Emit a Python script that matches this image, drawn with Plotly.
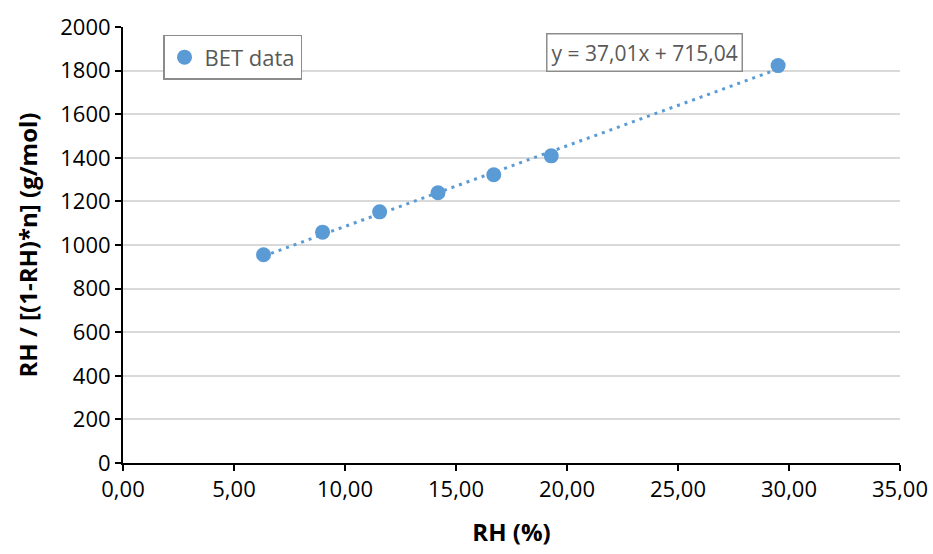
import plotly.graph_objects as go

# BET plot data
rh_pct = [6.33, 8.99, 11.56, 14.19, 16.70, 19.29, 29.51]
bet_y = [955, 1059, 1152, 1240, 1322, 1409, 1823]

# Linear fit reported on the chart
slope = 37.01
intercept = 715.04
fit_x = [min(rh_pct), max(rh_pct)]
fit_y = [slope * x + intercept for x in fit_x]

x_ticks = [0, 5, 10, 15, 20, 25, 30, 35]
y_ticks = list(range(0, 2001, 200))

blue = "#5B9BD5"
font_family = "Open Sans, Liberation Sans, sans-serif"

fig = go.Figure()
fig.add_trace(go.Scatter(
    x=fit_x, y=fit_y, mode="lines",
    line=dict(color=blue, width=3, dash="3px,5px"),
    showlegend=False, hoverinfo="skip",
))
fig.add_trace(go.Scatter(
    x=rh_pct, y=bet_y, mode="markers", name="BET data",
    marker=dict(color=blue, size=15),
))

fig.add_annotation(
    x=0.671, y=0.9415, xref="paper", yref="paper", xanchor="center", yanchor="middle",
    text=f"y = {slope:.2f}x + {intercept:.2f}".replace(".", ","),
    showarrow=False, font=dict(family=font_family, size=21, color="#595959"),
    bordercolor="#8c8c8c", borderwidth=1.5, borderpad=4, bgcolor="white",
)

fig.update_layout(
    width=933, height=554,
    margin=dict(l=123, r=33, t=27, b=91, autoexpand=False),
    paper_bgcolor="white", plot_bgcolor="white",
    font=dict(family=font_family, size=22, color="black"),
    separators=",.",
    legend=dict(
        x=0.0515, y=0.982, xanchor="left", yanchor="top",
        bordercolor="#8c8c8c", borderwidth=1.5, bgcolor="white",
        font=dict(size=22, color="#595959"),
        itemsizing="trace",
    ),
    xaxis=dict(
        range=[0, 35], tickvals=x_ticks, tickformat=".2f",
        showgrid=False, zeroline=False, automargin=False,
        showline=True, linecolor="black", linewidth=2,
        ticks="outside", ticklen=6, tickwidth=2, tickcolor="black",
        title=dict(text="<b>RH (%)</b>", font=dict(size=24), standoff=22),
    ),
    yaxis=dict(
        range=[0, 2000], tickvals=y_ticks, tickformat="d",
        showgrid=True, gridcolor="#d9d9d9", gridwidth=1.5, zeroline=False, automargin=False,
        showline=True, linecolor="black", linewidth=2,
        ticks="outside", ticklen=6, tickwidth=2, tickcolor="black",
        title=dict(text="<b>RH / [(1-RH)*n] (g/mol)</b>", font=dict(size=24), standoff=16),
    ),
)

fig.write_html("out.html")
